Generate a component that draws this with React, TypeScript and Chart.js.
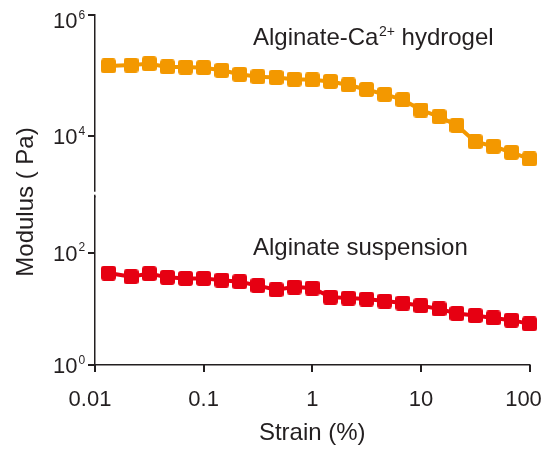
import React, { useEffect, useRef } from 'react';
import { Chart, registerables } from 'chart.js';

Chart.register(...registerables);

// Strain (%) of each measured point
const strain = [0.0133, 0.0215, 0.0316, 0.0464, 0.0681, 0.1, 0.147, 0.215, 0.316, 0.464, 0.681, 1, 1.47, 2.15, 3.16, 4.64, 6.81, 10, 14.7, 21.5, 31.6, 46.4, 68.1, 100];
// Modulus (Pa), Alginate-Ca2+ hydrogel
const hydrogel = [1.44e5, 1.49e5, 1.57e5, 1.39e5, 1.38e5, 1.35e5, 1.22e5, 1.05e5, 9.6e4, 9.3e4, 8.7e4, 8.5e4, 8.0e4, 7.0e4, 5.9e4, 4.9e4, 4.0e4, 2.7e4, 2.1e4, 1.5e4, 8.1e3, 6.8e3, 5.4e3, 4.2e3];
// Modulus (Pa), Alginate suspension
const suspension = [43.5, 37.5, 42.5, 36.5, 35, 35, 32.5, 30.5, 26, 22, 24.5, 23.5, 16.2, 15.6, 15, 13.8, 12.7, 11.4, 10, 8.3, 7.6, 6.9, 6.3, 5.4];

const xTickValues = [0.01, 0.1, 1, 10, 100];
const xTickLabels = ['0.01', '0.1', '1', '10', '100'];
const yTopTicks = [1e4, 1e6];
const yTopExponents = ['4', '6'];
const yBotTicks = [1, 100];
const yBotExponents = ['0', '2'];

const ORANGE = '#F39800';
const RED = '#E60012';
const INK = '#231f20';
const FONT = "'Liberation Sans', Arial, Helvetica, sans-serif";
const TICK_LEN = 7;

function makeMarker(color: string): HTMLCanvasElement {
  const c = document.createElement('canvas');
  c.width = 15;
  c.height = 15;
  const g = c.getContext('2d')!;
  g.fillStyle = color;
  g.beginPath();
  if ((g as any).roundRect) (g as any).roundRect(0, 0, 15, 15, 3);
  else g.rect(0, 0, 15, 15);
  g.fill();
  return c;
}

const axisGrid = () => ({
  display: true,
  drawOnChartArea: false,
  drawTicks: true,
  tickLength: TICK_LEN,
  color: 'rgba(0,0,0,0)',
  lineWidth: 1.5,
});
const axisBorder = () => ({ display: true, color: INK, width: 1.5 });

const labelPlugin = {
  id: 'labels',
  afterDraw(chart: any) {
    const ctx = chart.ctx as CanvasRenderingContext2D;
    const xs = chart.scales.x;
    const yt = chart.scales.yTop;
    const yb = chart.scales.yBot;
    const area = chart.chartArea;
    ctx.save();

    // small break in the y axis line where the two stacked scales meet
    ctx.fillStyle = '#fff';
    ctx.fillRect(area.left - 2, yt.bottom - 5, 4, 3);

    // tick marks, at the scales' own tick pixels
    ctx.fillStyle = INK;
    const yMark = (py: number) => ctx.fillRect(area.left - TICK_LEN, Math.round(py) - 1, TICK_LEN, 2);
    const xMark = (px: number) => ctx.fillRect(Math.round(px) - 1, area.bottom, 2, TICK_LEN);
    yTopTicks.forEach((v) => yMark(yt.getPixelForValue(v)));
    yBotTicks.forEach((v) => yMark(yb.getPixelForValue(v)));
    xTickValues.forEach((v) => xMark(xs.getPixelForValue(v)));

    ctx.textBaseline = 'alphabetic';

    // x tick labels
    ctx.font = `22px ${FONT}`;
    ctx.textAlign = 'center';
    xTickValues.forEach((v, i) => {
      let px = xs.getPixelForValue(v);
      if (i === 0) px -= 5;
      if (i === xTickValues.length - 1) px -= 6;
      ctx.fillText(xTickLabels[i], px, area.bottom + 41);
    });

    // y tick labels: 10 with superscript exponent
    const drawPow = (py: number, exp: string) => {
      ctx.font = `22px ${FONT}`;
      ctx.textAlign = 'right';
      ctx.fillText('10', area.left - 17.5, py + 8);
      ctx.font = `12px ${FONT}`;
      ctx.textAlign = 'left';
      ctx.fillText(exp, area.left - 16.5, py - 1.5);
    };
    yTopTicks.forEach((v, i) => drawPow(Math.max(yt.getPixelForValue(v), area.top + 5), yTopExponents[i]));
    yBotTicks.forEach((v, i) => drawPow(yb.getPixelForValue(v), yBotExponents[i]));

    // axis titles
    ctx.font = `24px ${FONT}`;
    ctx.textAlign = 'center';
    ctx.fillText('Strain (%)', (area.left + area.right) / 2, area.bottom + 75);
    ctx.save();
    ctx.translate(33, 202);
    ctx.rotate(-Math.PI / 2);
    ctx.fillText('Modulus ( Pa)', 0, 0);
    ctx.restore();

    // series annotations
    ctx.textAlign = 'left';
    let x = 253;
    ctx.font = `24px ${FONT}`;
    ctx.fillText('Alginate-Ca', x, 45);
    x += ctx.measureText('Alginate-Ca').width + 0.5;
    ctx.font = `14px ${FONT}`;
    ctx.fillText('2+', x, 36);
    x += ctx.measureText('2+').width;
    ctx.font = `24px ${FONT}`;
    ctx.fillText(' hydrogel', x, 45);

    ctx.fillText('Alginate suspension', 253, 255);
    ctx.restore();
  },
};

export default function App() {
  const ref = useRef<HTMLCanvasElement>(null);
  useEffect(() => {
    const canvas = ref.current!;
    const chart = new Chart(canvas, {
      type: 'line',
      data: {
        datasets: [
          {
            label: 'Alginate-Ca2+ hydrogel',
            data: strain.map((s, i) => ({ x: s, y: hydrogel[i] })),
            xAxisID: 'x',
            yAxisID: 'yTop',
            borderColor: ORANGE,
            backgroundColor: ORANGE,
            borderWidth: 4,
            pointStyle: makeMarker(ORANGE),
            pointRadius: 8,
            clip: false,
          },
          {
            label: 'Alginate suspension',
            data: strain.map((s, i) => ({ x: s, y: suspension[i] })),
            xAxisID: 'x',
            yAxisID: 'yBot',
            borderColor: RED,
            backgroundColor: RED,
            borderWidth: 4,
            pointStyle: makeMarker(RED),
            pointRadius: 8,
            clip: false,
          },
        ],
      },
      options: {
        responsive: false,
        animation: false,
        devicePixelRatio: 1,
        layout: { padding: { left: 88, right: 15.5, top: 15, bottom: 78 } },
        plugins: { legend: { display: false }, tooltip: { enabled: false } },
        scales: {
          x: {
            type: 'logarithmic',
            position: 'bottom',
            min: 0.01,
            max: 100,
            afterBuildTicks: (s: any) => {
              s.ticks = xTickValues.map((v) => ({ value: v }));
            },
            ticks: { display: false },
            grid: axisGrid(),
            border: axisBorder(),
          },
          yBot: {
            type: 'logarithmic',
            position: 'left',
            stack: 'y',
            stackWeight: 169.5,
            min: 1,
            max: 1e3,
            afterBuildTicks: (s: any) => {
              s.ticks = yBotTicks.map((v) => ({ value: v }));
            },
            ticks: { display: false },
            grid: axisGrid(),
            border: axisBorder(),
          },
          yTop: {
            type: 'logarithmic',
            position: 'left',
            stack: 'y',
            stackWeight: 183,
            min: 1e3,
            max: 1e6,
            afterBuildTicks: (s: any) => {
              s.ticks = yTopTicks.map((v) => ({ value: v }));
            },
            ticks: { display: false },
            grid: axisGrid(),
            border: axisBorder(),
          },
        },
      } as any,
      plugins: [labelPlugin],
    });
    return () => chart.destroy();
  }, []);
  return (
    <div style={{ position: 'fixed', left: 0, top: 0, width: 545, height: 450, background: '#fff' }}>
      <canvas ref={ref} width={545} height={450} style={{ display: 'block' }} />
    </div>
  );
}
